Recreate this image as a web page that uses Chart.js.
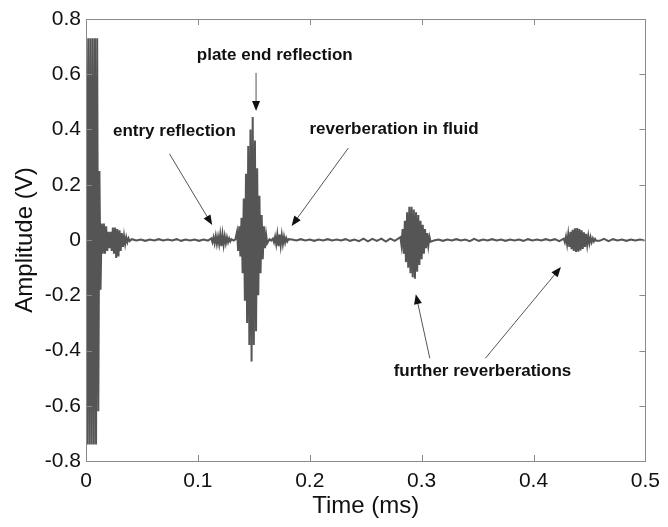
<!DOCTYPE html>
<html>
<head>
<meta charset="utf-8">
<script src="https://cdn.jsdelivr.net/npm/chart.js"></script>
<style>
  html, body { margin: 0; padding: 0; background: #fff; }
  #wrap { width: 668px; height: 527px; }
</style>
</head>
<body>
<div id="wrap"><canvas id="waveChart" width="668" height="527"></canvas></div>
<script>
// Waveform, packet by packet: oscillation peaks (V)
// sampled at a fixed time step (ms) from each packet's start time.
var transmit = [0.73, -0.74, 0.73, -0.74, 0.73, -0.74, 0.73, -0.74, 0.73, -0.74, 0.73, -0.62];
var ringing = [0.25, -0.18, 0.06, -0.05, 0.06, -0.05, 0.05, -0.04, 0.03, -0.03, 0.03, -0.04, 0.045, -0.05,
  0.045, -0.065, 0.04, -0.06, 0.035, -0.04, 0.025, -0.025, 0.015, -0.015, 0.01, -0.008, 0.006, -0.004];
var quietA = [0.003, -0.002, 0.002, -0.003, 0.002, -0.002, 0.003, -0.002, 0.002, -0.002, 0.003, -0.003,
  0.002, -0.002, 0.002, -0.003, 0.002, -0.002];
var entryEcho = [0.006, -0.008, 0.01, -0.012, 0.015, -0.014, 0.012, -0.015, 0.02, -0.022, 0.02, -0.018,
  0.014, -0.012, 0.01, -0.008, 0.006, -0.005, 0.003];
var quietB = [-0.002, 0.002];
var plateEcho = [0.03, -0.04, 0.05, -0.06, 0.08, -0.12, 0.15, -0.22, 0.24, -0.30, 0.34, -0.38, 0.40, -0.44,
  0.445, -0.38, 0.36, -0.33, 0.26, -0.20, 0.16, -0.12, 0.09, -0.07, 0.05, -0.03, 0.02, -0.012];
var quietC = [0.003, -0.002];
var fluidEcho = [0.005, -0.008, 0.012, -0.015, 0.02, -0.022, 0.02, -0.02, 0.018, -0.015, 0.012, -0.01,
  0.007, -0.005, 0.003];
var quietD = [0.002, -0.002, 0.003, -0.002, 0.002, -0.003, 0.002, -0.002, 0.003, -0.002, 0.002, -0.002,
  0.003, -0.003, 0.002, -0.004, 0.005, -0.005, 0.004, -0.003, 0.005, -0.006, 0.005, -0.003];
var secondEcho = [0.01, -0.02, 0.04, -0.05, 0.07, -0.08, 0.10, -0.10, 0.12, -0.12, 0.12, -0.135, 0.11, -0.14,
  0.10, -0.115, 0.09, -0.09, 0.07, -0.07, 0.055, -0.05, 0.04, -0.03, 0.025, -0.02, 0.012, -0.006];
var quietE = [-0.002, 0.002, -0.003, 0.002, -0.002, 0.003, -0.002, 0.002, -0.004, 0.004, -0.003, 0.002,
  -0.002, 0.003, -0.002, 0.002, -0.003, 0.002, -0.002, 0.002, -0.003, 0.003, -0.002, 0.002, -0.002,
  0.003, -0.002, 0.003, -0.004];
var thirdEcho = [0.005, -0.008, 0.012, -0.016, 0.02, -0.025, 0.03, -0.033, 0.037, -0.04, 0.042, -0.043,
  0.043, -0.042, 0.04, -0.038, 0.035, -0.032, 0.028, -0.025, 0.022, -0.018, 0.015, -0.012, 0.01, -0.008,
  0.006, -0.005, 0.004, -0.003];
var quietF = [-0.003, 0.004, -0.004, 0.003, -0.002, 0.002, -0.003, 0.002, -0.002, 0.002, -0.002];

var packets = [transmit, ringing, quietA, entryEcho, quietB, plateEcho, quietC, fluidEcho, quietD,
  secondEcho, quietE, thirdEcho, quietF];
var packetStart = [0, 0.012, 0.041, 0.112, 0.132, 0.135, 0.164, 0.167, 0.184, 0.281, 0.311, 0.427, 0.459];
var packetStep = [0.001, 0.001, 0.004, 0.001, 0.0015, 0.001, 0.0015, 0.001, 0.004, 0.001, 0.004, 0.001, 0.004];

var xTicks = [0, 0.1, 0.2, 0.3, 0.4, 0.5];
var yTicks = [-0.8, -0.6, -0.4, -0.2, 0, 0.2, 0.4, 0.6, 0.8];

// annotation text (data units) and arrows [fromT, fromV, toT, toV]
var notes = [
  { text: 'plate end reflection', t: 0.1687, v: 0.670, arrows: [[0.152, 0.605, 0.152, 0.467]] },
  { text: 'entry reflection', t: 0.079, v: 0.395, arrows: [[0.0746, 0.312, 0.1128, 0.054]] },
  { text: 'reverberation in fluid', t: 0.2753, v: 0.402, arrows: [[0.2345, 0.333, 0.1838, 0.051]] },
  { text: 'further reverberations', t: 0.3544, v: -0.475,
    arrows: [[0.3073, -0.428, 0.2948, -0.196], [0.357, -0.428, 0.4245, -0.098]] }
];

function buildPoints() {
  var pts = [];
  for (var p = 0; p < packets.length; p++) {
    for (var i = 0; i < packets[p].length; i++) {
      pts.push({ x: packetStart[p] + i * packetStep[p], y: packets[p][i] });
    }
  }
  return pts;
}

var FONT = "'Liberation Sans', Arial, Helvetica, sans-serif";

// box with inward ticks on all four sides, like the original figure
var boxPlugin = {
  id: 'box',
  afterDatasetsDraw: function(chart) {
    var ctx = chart.ctx, a = chart.chartArea;
    var xs = chart.scales.x, ys = chart.scales.y, len = 6;
    ctx.save();
    ctx.strokeStyle = '#8a8a8a';
    ctx.lineWidth = 1;
    ctx.strokeRect(Math.round(a.left) + 0.5, Math.round(a.top) + 0.5,
      Math.round(a.right - a.left), Math.round(a.bottom - a.top));
    ctx.beginPath();
    xTicks.forEach(function(t) {
      var px = Math.round(xs.getPixelForValue(t)) + 0.5;
      ctx.moveTo(px, a.bottom); ctx.lineTo(px, a.bottom - len);
      ctx.moveTo(px, a.top); ctx.lineTo(px, a.top + len);
    });
    yTicks.forEach(function(v) {
      var py = Math.round(ys.getPixelForValue(v)) + 0.5;
      ctx.moveTo(a.left, py); ctx.lineTo(a.left + len, py);
      ctx.moveTo(a.right, py); ctx.lineTo(a.right - len, py);
    });
    ctx.stroke();
    ctx.restore();
  }
};

function drawArrow(ctx, x1, y1, x2, y2) {
  var ang = Math.atan2(y2 - y1, x2 - x1), head = 10, half = 4;
  ctx.strokeStyle = '#555';
  ctx.lineWidth = 1;
  ctx.beginPath();
  ctx.moveTo(x1, y1);
  ctx.lineTo(x2 - Math.cos(ang) * head * 0.8, y2 - Math.sin(ang) * head * 0.8);
  ctx.stroke();
  ctx.fillStyle = '#111';
  ctx.beginPath();
  ctx.moveTo(x2, y2);
  ctx.lineTo(x2 - Math.cos(ang) * head - Math.sin(ang) * half, y2 - Math.sin(ang) * head + Math.cos(ang) * half);
  ctx.lineTo(x2 - Math.cos(ang) * head + Math.sin(ang) * half, y2 - Math.sin(ang) * head - Math.cos(ang) * half);
  ctx.closePath();
  ctx.fill();
}

var notesPlugin = {
  id: 'notes',
  afterDraw: function(chart) {
    var ctx = chart.ctx, xs = chart.scales.x, ys = chart.scales.y;
    ctx.save();
    ctx.font = 'bold 17px ' + FONT;
    ctx.textAlign = 'center';
    ctx.textBaseline = 'middle';
    notes.forEach(function(n) {
      ctx.fillStyle = '#111';
      ctx.fillText(n.text, xs.getPixelForValue(n.t), ys.getPixelForValue(n.v));
      n.arrows.forEach(function(ar) {
        drawArrow(ctx, xs.getPixelForValue(ar[0]), ys.getPixelForValue(ar[1]),
          xs.getPixelForValue(ar[2]), ys.getPixelForValue(ar[3]));
      });
    });
    ctx.restore();
  }
};

function init() {
  var ctx = document.getElementById('waveChart').getContext('2d');
  new Chart(ctx, {
    type: 'line',
    data: {
      datasets: [{
        data: buildPoints(),
        borderColor: '#555555',
        borderWidth: 2,
        pointRadius: 0,
        tension: 0,
        fill: false
      }]
    },
    options: {
      responsive: false,
      animation: false,
      devicePixelRatio: 1,
      layout: { padding: { top: 19, right: 19, left: 0, bottom: 0 } },
      plugins: { legend: { display: false }, tooltip: { enabled: false } },
      scales: {
        x: {
          type: 'linear', min: 0, max: 0.5,
          afterFit: function(s) { s.height = 66; },
          afterBuildTicks: function(s) { s.ticks = xTicks.map(function(v) { return { value: v }; }); },
          grid: { display: false, drawTicks: false },
          border: { display: false },
          ticks: {
            padding: 8, color: '#111', font: { family: FONT, size: 21 },
            maxRotation: 0,
            callback: function(v) { return String(Math.round(v * 10) / 10); }
          },
          title: { display: true, text: 'Time (ms)', color: '#111',
            font: { family: FONT, size: 24 }, padding: { top: 0, bottom: 6 } }
        },
        y: {
          type: 'linear', min: -0.8, max: 0.8,
          afterFit: function(s) { s.width = 86; },
          afterBuildTicks: function(s) { s.ticks = yTicks.map(function(v) { return { value: v }; }); },
          grid: { display: false, drawTicks: false },
          border: { display: false },
          ticks: {
            padding: 5, color: '#111', font: { family: FONT, size: 21 },
            callback: function(v) { return String(Math.round(v * 10) / 10); }
          },
          title: { display: true, text: 'Amplitude (V)', color: '#111',
            font: { family: FONT, size: 24 }, padding: { top: 11, bottom: 0 } }
        }
      }
    },
    plugins: [boxPlugin, notesPlugin]
  });
}

if (document.readyState === 'loading') {
  document.addEventListener('DOMContentLoaded', init);
} else {
  init();
}
</script>
</body>
</html>
